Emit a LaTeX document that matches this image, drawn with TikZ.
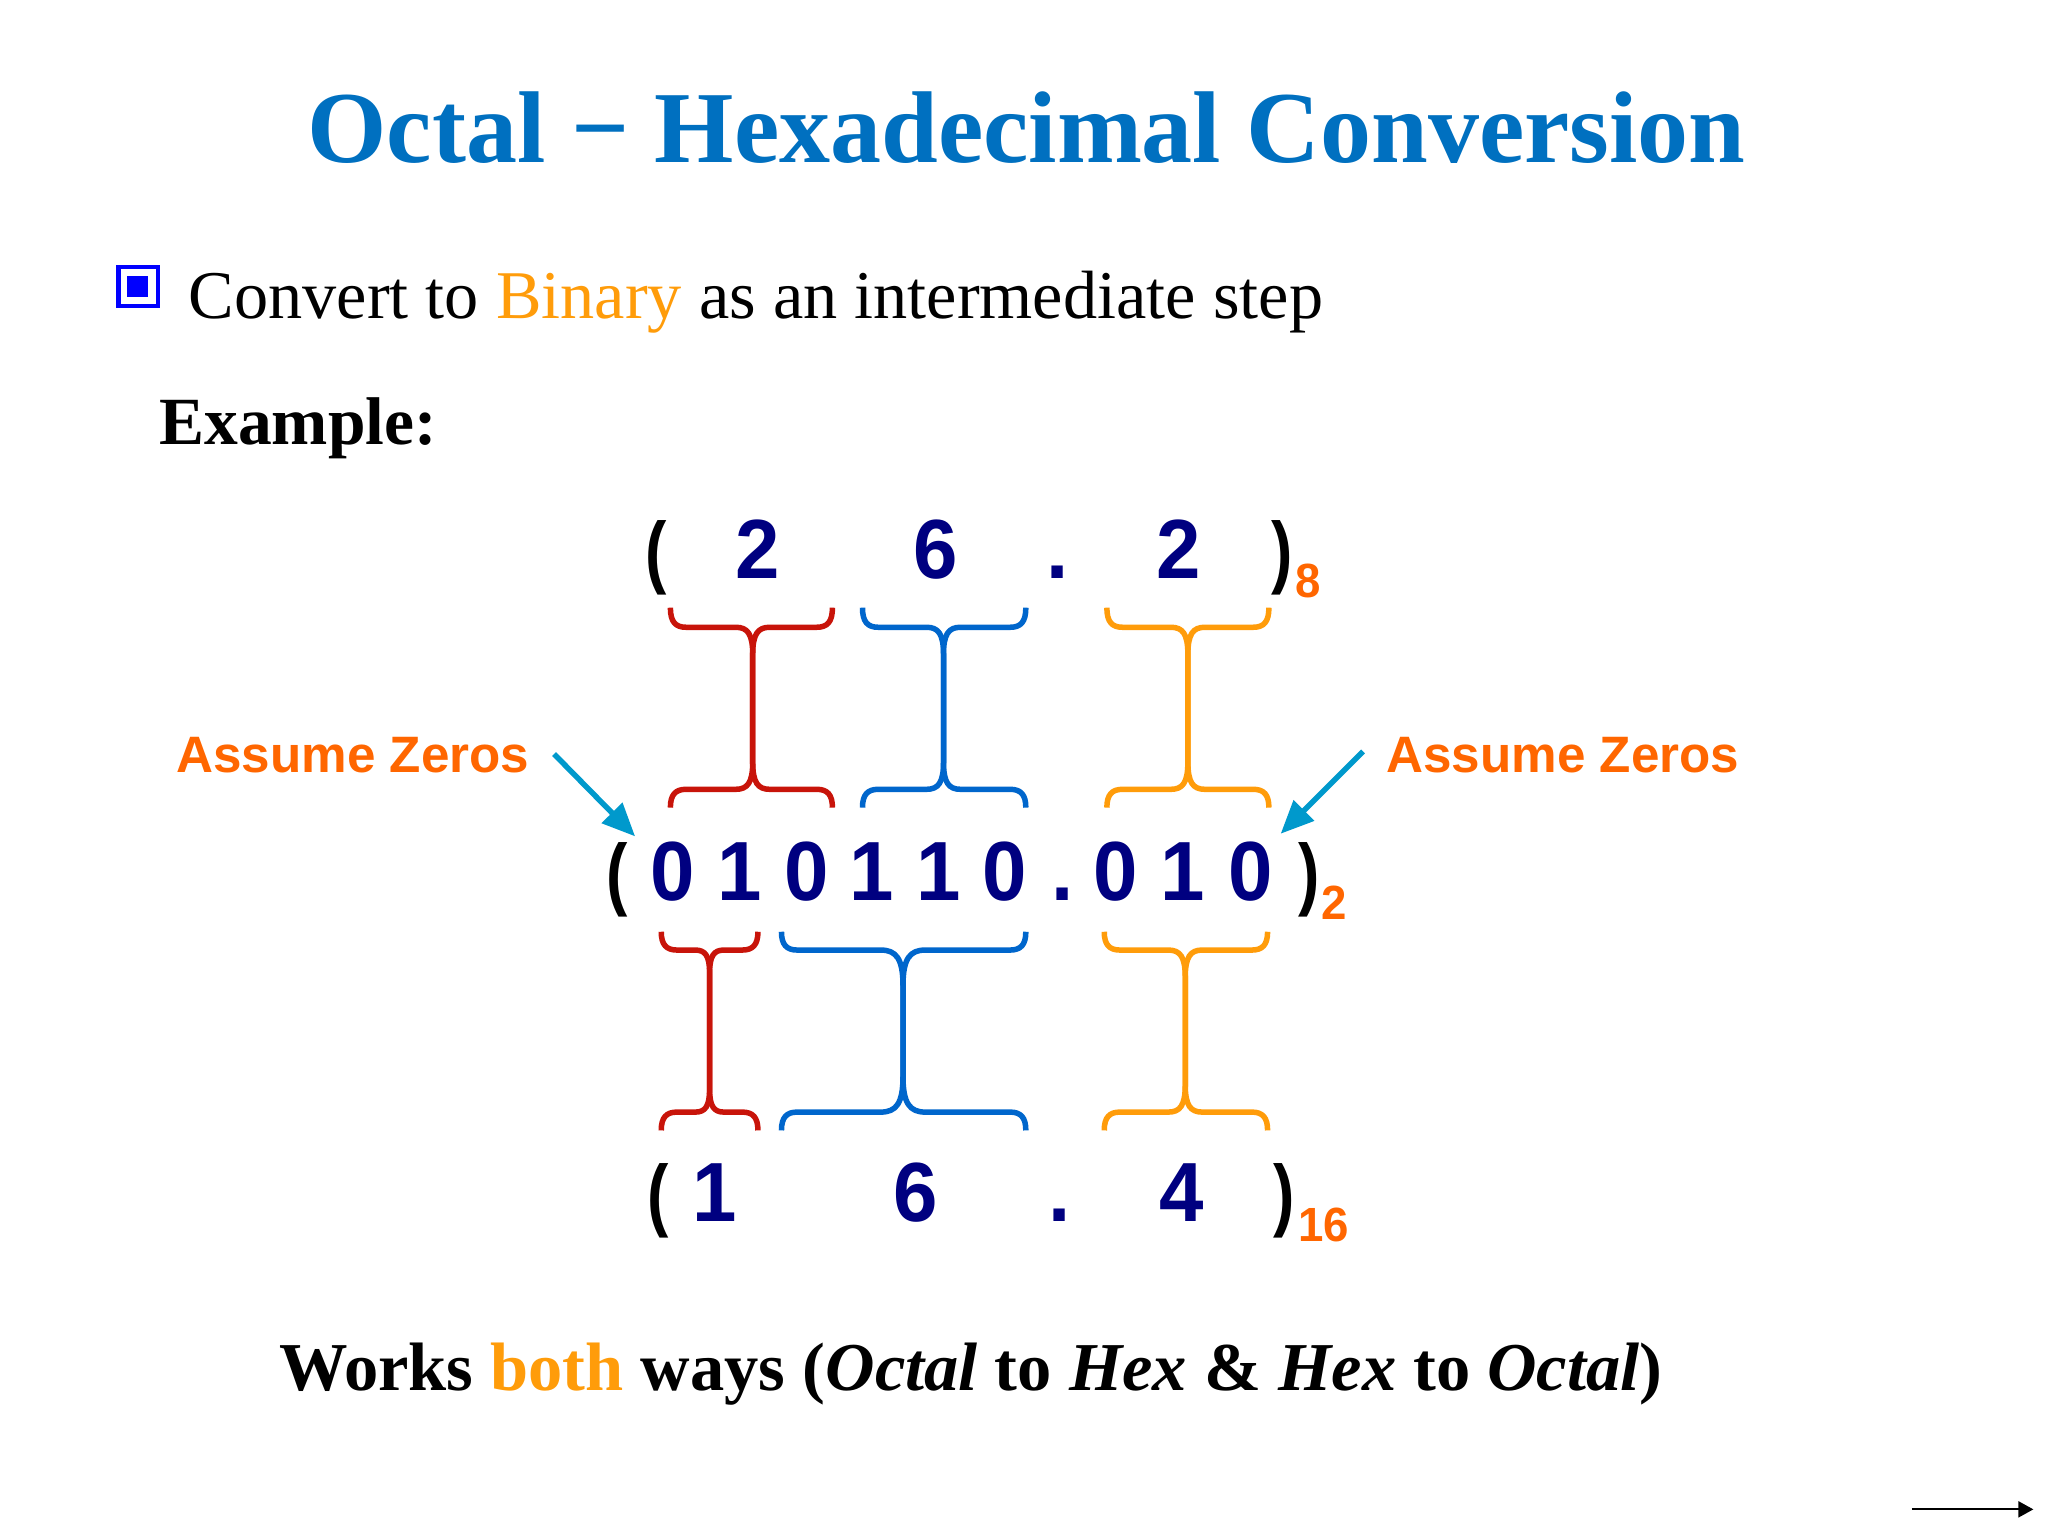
\documentclass[tikz,border=0pt]{standalone}
\usepackage{fontspec}
\setmainfont{Liberation Serif}
\newfontfamily\arialf[FakeStretch=0.95]{Liberation Sans}
\newfontfamily\arialp[FakeStretch=0.8]{Liberation Sans}
\newfontfamily\arialw{Liberation Sans}
\usetikzlibrary{arrows.meta}
\definecolor{titleblue}{HTML}{0070C0}
\definecolor{amber}{HTML}{FF9C0A}
\definecolor{subor}{HTML}{FF6600}
\definecolor{navyd}{HTML}{000080}
\definecolor{bred}{HTML}{C8140A}
\definecolor{bblue}{HTML}{0066CC}
\definecolor{teal2}{HTML}{0099CC}
\newcommand{\ibrace}[9]{%
 \draw[bracestroke,#1] (#2,#5) .. controls (#2,{#6-4}) and ({#2+4},#6) .. ({#2+12},#6)
   -- ({#3-#9},#6) .. controls ({#3-#9*0.3},#6) and (#3,{#6+#9*0.4}) .. (#3,{#6+#9*1.6})
   -- (#3,{#7-#9*1.6}) .. controls (#3,{#7-#9*0.4}) and ({#3-#9*0.3},#7) .. ({#3-#9},#7)
   -- ({#2+12},#7) .. controls ({#2+4},#7) and (#2,{#7+4}) .. (#2,#8);
 \draw[bracestroke,#1] (#4,#5) .. controls (#4,{#6-4}) and ({#4-4},#6) .. ({#4-12},#6)
   -- ({#3+#9},#6) .. controls ({#3+#9*0.3},#6) and (#3,{#6+#9*0.4}) .. (#3,{#6+#9*1.6})
   -- (#3,{#7-#9*1.6}) .. controls (#3,{#7-#9*0.4}) and ({#3+#9*0.3},#7) .. ({#3+#9},#7)
   -- ({#4-12},#7) .. controls ({#4-4},#7) and (#4,{#7+4}) .. (#4,#8);
}
\begin{document}
\begin{tikzpicture}[x=1.3068pt,y=-1.3068pt,
  txt/.style={inner sep=0pt,outer sep=0pt,anchor=base},
  txtw/.style={inner sep=0pt,outer sep=0pt,anchor=base west},
  titlet/.style={txt,text=titleblue,font=\fontsize{102}{102}\selectfont\bfseries},
  bodyt/.style={txtw,font=\fontsize{68.3}{68}\selectfont},
  boldt/.style={txt,font=\fontsize{68.5}{68}\selectfont\bfseries},
  examplet/.style={txtw,font=\fontsize{67.5}{68}\selectfont\bfseries},
  digit/.style={txt,text=navyd,font=\fontsize{84}{84}\selectfont\arialf\bfseries},
  paren/.style={txt,text=black,font=\fontsize{80}{80}\selectfont\arialp\bfseries},
  subs/.style={txt,text=subor,font=\fontsize{48}{48}\selectfont\arialf\bfseries},
  assume/.style={txt,text=subor,font=\fontsize{51.2}{52}\selectfont\arialw\bfseries},
  bracestroke/.style={line width=5.5pt,line cap=butt,line join=round},
  pointer/.style={teal2,line width=5.5pt,-{Triangle[length=33pt,width=28pt]}},
  nextarrow/.style={black,line width=2pt,-{Triangle[length=15pt,width=16pt]}}
 ]
\useasboundingbox[fill=white] (0,0) rectangle (1567.2,1175.4);
\node[titlet] (title) at (785.5,124) {Octal − Hexadecimal Conversion};
\draw[blue,line width=4.5pt] (90.5,204.5) rectangle (121,234);
\fill[blue] (97.5,211.5) rectangle (113.5,227.5);
\node[bodyt] (bullet) at (144.5,244) {Convert to \textcolor{amber}{Binary} as an intermediate step};
\node[examplet] (example) at (122,340) {Example:};
% top row
\node[paren] (tl) at (502,443) {(};
\node[digit] (t1) at (580,443) {2};
\node[digit] (t2) at (716,443) {6};
\node[digit] (td) at (809,443) {.};
\node[digit] (t3) at (902,443) {2};
\node[paren] (tr) at (981,443) {)};
\node[subs] (ts) at (1001,457) {8};
% braces upper
\ibrace{bred}{513}{576}{637}{465}{480}{604}{618}{13}
\ibrace{bblue}{660}{722}{785}{465}{480}{604}{618}{13}
\ibrace{amber}{847}{909}{971}{465}{480}{604}{618}{13}
% middle row
\node[paren] (ml) at (472,689) {(};
\node[digit] (m1) at (515,689) {0};
\node[digit] (m2) at (566,689) {1};
\node[digit] (m3) at (617,689) {0};
\node[digit] (m4) at (667,689) {1};
\node[digit] (m5) at (718,689) {1};
\node[digit] (m6) at (769,689) {0};
\node[digit] (md) at (813,689) {.};
\node[digit] (m7) at (854,689) {0};
\node[digit] (m8) at (905,689) {1};
\node[digit] (m9) at (957,689) {0};
\node[paren] (mr) at (1002,689) {)};
\node[subs] (ms) at (1021,704) {2};
% braces lower
\ibrace{bred}{506}{543}{580}{713}{727}{851}{865}{11}
\ibrace{bblue}{598}{691}{785}{713}{727}{851}{865}{17}
\ibrace{amber}{845}{907}{970}{713}{727}{851}{865}{13}
% bottom row
\node[paren] (bl) at (504,935) {(};
\node[digit] (b1) at (547,935) {1};
\node[digit] (b2) at (701,935) {6};
\node[digit] (bd) at (811,935) {.};
\node[digit] (b3) at (904,935) {4};
\node[paren] (br) at (983,935) {)};
\node[subs] (bs) at (1013,950) {16};
% assume
\node[assume] (al) at (270,591) {Assume Zeros};
\node[assume] (ar) at (1196,591) {Assume Zeros};
\coordinate (a1s) at (424,577);
\coordinate (a1e) at (486,640);
\coordinate (a2s) at (1043,575);
\coordinate (a2e) at (980,638);
\draw[pointer] (a1s) -- (a1e);
\draw[pointer] (a2s) -- (a2e);
\node[boldt] (works) at (743,1064) {Works \textcolor{amber}{both} ways (\textit{Octal} to \textit{Hex} \& \textit{Hex} to \textit{Octal})};
\coordinate (n1) at (1463,1155);
\coordinate (n2) at (1556,1155);
\draw[nextarrow] (n1) -- (n2);
\end{tikzpicture}
\end{document}
